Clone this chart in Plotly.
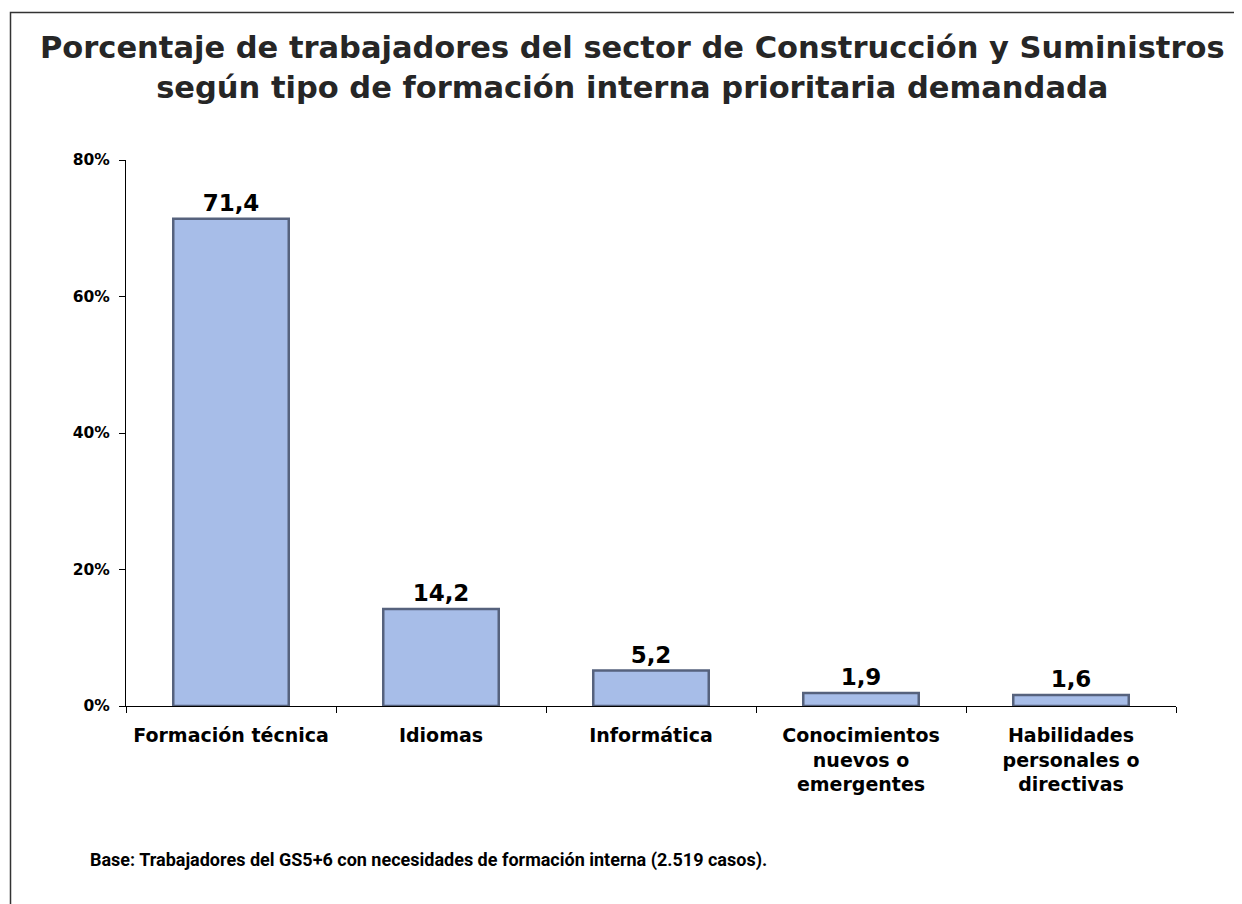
import plotly.graph_objects as go

categories = ["Formación técnica", "Idiomas", "Informática",
              "Conocimientos<br>nuevos o<br>emergentes",
              "Habilidades<br>personales o<br>directivas"]
values = [71.4, 14.2, 5.2, 1.9, 1.6]
y_ticks = [0, 20, 40, 60, 80]
y_tick_labels = ["0%", "20%", "40%", "60%", "80%"]

# page has an 8px body margin; work in page pixel coordinates
OFF = 8
W, H = 1242 - OFF, 904 - OFF
L, R, T, B = 126 - OFF, 1242 - 1176, 160 - OFF, 904 - 706
pw = W - L - R
ph = H - T - B

def px_x(x):
    return (x - OFF - L) / pw

def px_y(y):
    return (H - B - (y - OFF)) / ph

fig = go.Figure()
fig.add_trace(go.Bar(
    x=categories, y=values,
    marker=dict(color="#A7BDE8", line=dict(color="#56627D", width=2.5)),
    width=0.55,
    texttemplate="%{y:.1f}", textposition="outside",
    textfont=dict(family="DejaVu Sans", size=23, color="black", weight="bold"),
    cliponaxis=False,
))

fig.update_layout(
    width=W, height=H,
    margin=dict(l=L, r=R, t=T, b=B),
    paper_bgcolor="white", plot_bgcolor="white",
    separators=",.",
    showlegend=False,
    font=dict(family="DejaVu Sans", color="black"),
    xaxis=dict(
        showline=True, linecolor="black", linewidth=1,
        ticks="outside", tickson="boundaries", ticklen=6, tickcolor="black",
        tickfont=dict(family="DejaVu Sans", size=19, color="black", weight="bold"),
        ticklabelstandoff=12,
        showgrid=False,
    ),
    yaxis=dict(
        range=[0, 80], tickvals=y_ticks, ticktext=y_tick_labels,
        showline=True, linecolor="black", linewidth=1,
        ticks="outside", ticklen=6, tickcolor="black",
        tickfont=dict(family="DejaVu Sans", size=15.5, color="black", weight="bold"),
        ticklabelstandoff=6,
        showgrid=False, zeroline=False,
    ),
)

# title
fig.add_annotation(
    text="<b>Porcentaje de trabajadores del sector de Construcción y Suministros<br>según tipo de formación interna prioritaria demandada</b>",
    xref="paper", yref="paper", x=px_x(632), y=px_y(68),
    xanchor="center", yanchor="middle", showarrow=False,
    font=dict(family="DejaVu Sans", size=30.5, color="#262626"),
)

# footnote
fig.add_annotation(
    text="<b>Base: Trabajadores del GS5+6 con necesidades de formación interna (2.519 casos).</b>",
    xref="paper", yref="paper", x=px_x(88), y=px_y(860),
    xanchor="left", yanchor="middle", showarrow=False,
    font=dict(family="Liberation Sans Narrow, Roboto", size=18, color="black"),
)

# border
fig.add_shape(type="rect", xref="paper", yref="paper",
              x0=px_x(10.5), x1=px_x(1260), y0=px_y(12.5), y1=px_y(930),
              line=dict(color="#333333", width=1.5), fillcolor="rgba(0,0,0,0)")

fig.write_html("out.html")
